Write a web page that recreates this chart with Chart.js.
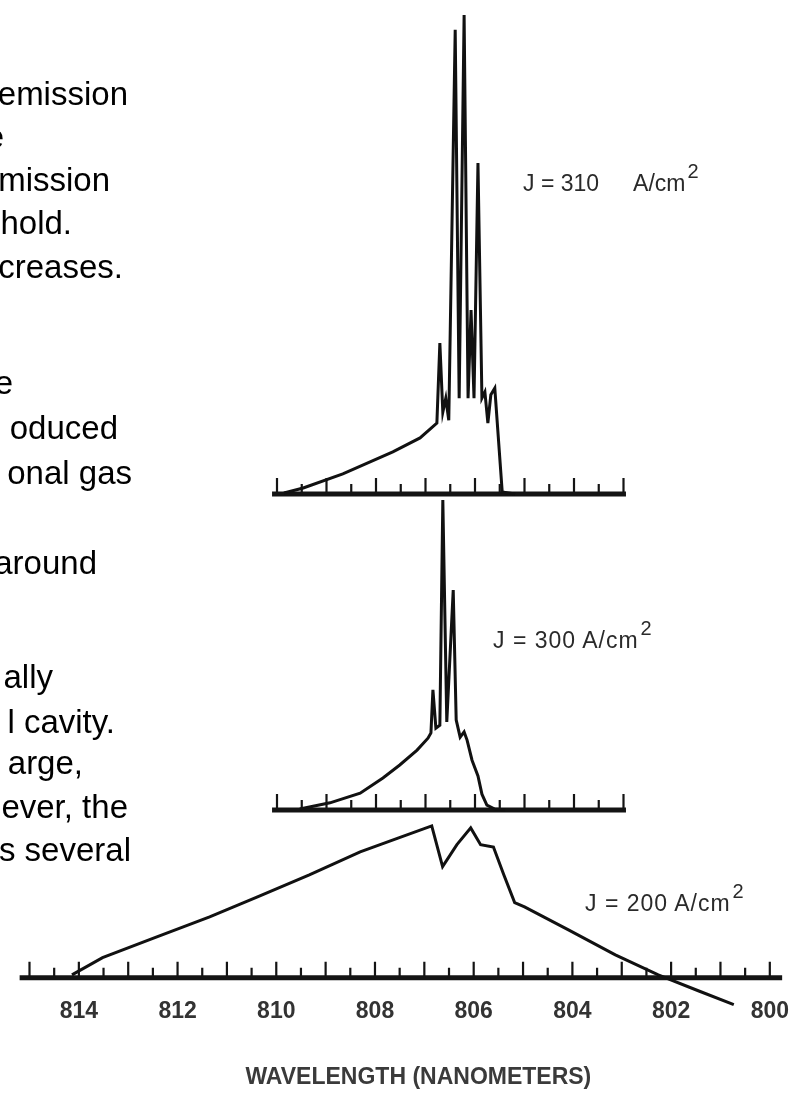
<!DOCTYPE html>
<html>
<head>
<meta charset="utf-8">
<script src="https://cdn.jsdelivr.net/npm/chart.js@4.4.0/dist/chart.umd.min.js"></script>
<style>
  html, body { margin: 0; padding: 0; background: #fff; }
  body { position: relative; width: 809px; height: 1095px; overflow: hidden; }
  canvas { position: absolute; left: 0; }
  .t { position: absolute; font: 33px/33px "Liberation Sans", Arial, sans-serif; color: #000; white-space: nowrap; text-align: right; z-index: 5; }
  .jl { position: absolute; font: 23px/23px "Liberation Sans", Arial, sans-serif; color: #2a2a2a; white-space: nowrap; z-index: 5; }
  .jl .sup { position: relative; top: -13px; font-size: 20px; margin-left: 2px; }
</style>
</head>
<body>
<canvas id="cTop" width="809" height="504" style="top:0px"></canvas>
<canvas id="cMid" width="809" height="340" style="top:480px"></canvas>
<canvas id="cBot" width="809" height="305" style="top:790px"></canvas>

<div class="t" style="right:681px;top:77px">emission</div>
<div class="t" style="right:805px;top:120px">e</div>
<div class="t" style="right:699px;top:163px">mission</div>
<div class="t" style="right:737px;top:206px">hold.</div>
<div class="t" style="right:686px;top:250px">creases.</div>
<div class="t" style="right:796px;top:366px">e</div>
<div class="t" style="right:691px;top:411px">oduced</div>
<div class="t" style="right:677px;top:456px">onal gas</div>
<div class="t" style="right:712px;top:546px">around</div>
<div class="t" style="right:756px;top:660px">ally</div>
<div class="t" style="right:694px;top:705px">l cavity.</div>
<div class="t" style="right:726px;top:746px">arge,</div>
<div class="t" style="right:681px;top:790px">ever, the</div>
<div class="t" style="right:678px;top:833px">s several</div>

<div class="jl" style="left:523px;top:172px">J = 310<span style="margin-left:34px">A/cm</span><span class="sup">2</span></div>
<div class="jl" style="left:493px;top:629px;letter-spacing:1px">J = 300 A/cm<span class="sup">2</span></div>
<div class="jl" style="left:585px;top:892px;letter-spacing:1px">J = 200 A/cm<span class="sup">2</span></div>

<script>
// ---- data (wavelength in nm, intensity in arbitrary units) ----
const topWavelength = [809.86, 809.47, 808.67, 807.66, 807.11, 806.77, 806.71, 806.65, 806.59, 806.53, 806.40, 806.32, 806.22, 806.14, 806.08, 806.02, 805.94, 805.86, 805.80, 805.74, 805.68, 805.60, 805.54, 805.45, 805.19];
const topIntensity  = [0.2, 1.25, 4.2, 8.8, 11.7, 14.8, 31.5, 17.1, 20.0, 15.4, 96.9, 20.0, 100, 20.0, 38.4, 20.0, 69.1, 20.0, 21.3, 14.8, 20.7, 22.1, 13.4, 0.4, 0];

const midWavelength = [809.54, 808.93, 808.32, 807.86, 807.52, 807.17, 806.95, 806.89, 806.85, 806.79, 806.71, 806.65, 806.57, 806.44, 806.38, 806.30, 806.22, 806.16, 806.06, 805.94, 805.86, 805.76, 805.60, 805.39];
const midIntensity  = [0.2, 1.5, 3.5, 6.7, 9.4, 12.5, 15.0, 16.1, 25.1, 17.1, 17.7, 64.7, 18.4, 45.9, 18.8, 15.2, 16.3, 14.6, 10.4, 7.1, 3.3, 1.0, 0.2, 0];

const botWavelength = [814.14, 813.52, 812.46, 811.35, 810.38, 809.33, 808.30, 807.52, 806.85, 806.63, 806.34, 806.06, 805.86, 805.60, 805.39, 805.17, 804.97, 804.08, 803.13, 802.26, 801.45, 800.73];
const botIntensity  = [0.6, 4.2, 8.4, 12.7, 16.9, 21.5, 26.3, 29.2, 31.7, 23.2, 27.8, 31.3, 27.8, 27.3, 21.5, 15.7, 14.8, 10.0, 4.8, 0.6, -2.7, -5.6];

const tickLabelStep = 2;          // nm between numbered ticks
const minorTickStep = 0.5;        // nm between tick marks
const shortAxisRange = [810.1, 802.95];   // extent of the upper two axes (nm)
const longAxisRange  = [815.2, 799.75];   // extent of the bottom axis (nm)
const xTitle = 'WAVELENGTH (NANOMETERS)';

// ---- layout constants ----
const PX_REF = 277, NM_REF = 810, PX_PER_NM = 49.5, CANVAS_W = 809;
const PX_PER_UNIT = 4.79;
const nmAtPx = px => NM_REF - (px - PX_REF) / PX_PER_NM;

const handAxis = {
  id: 'handAxis',
  beforeDatasetsDraw(chart, args, o) {
    const {ctx, scales: {x, y}} = chart;
    const y0 = y.getPixelForValue(0);
    ctx.save();
    ctx.strokeStyle = '#141414';
    ctx.lineCap = 'butt';
    ctx.lineWidth = 5;
    ctx.beginPath();
    ctx.moveTo(x.getPixelForValue(o.range[0]), y0);
    ctx.lineTo(x.getPixelForValue(o.range[1]), y0);
    ctx.stroke();
    ctx.lineWidth = 2.2;
    ctx.beginPath();
    const start = Math.floor(o.range[0] / minorTickStep) * minorTickStep;
    for (let w = start; w >= o.range[1] - 1e-9; w -= minorTickStep) {
      const px = x.getPixelForValue(w);
      const len = Math.abs(w - Math.round(w)) < 1e-6 ? 16 : 10;
      ctx.moveTo(px, y0);
      ctx.lineTo(px, y0 - len);
    }
    ctx.stroke();
    ctx.restore();
  }
};

function spectrum(wl, inten) {
  return {
    data: wl.map((w, i) => ({x: w, y: inten[i]})),
    borderColor: '#111',
    borderWidth: 3,
    pointRadius: 0,
    tension: 0,
    clip: false,
    borderJoinStyle: 'miter'
  };
}

function makeChart(id, wl, inten, opt) {
  const cv = document.getElementById(id);
  const h = cv.height;
  const padLeft = opt.padLeft || 0;
  const areaH = h - opt.axisHeight;
  const baseFromTop = opt.baseline;
  const yMax = baseFromTop / PX_PER_UNIT;
  const yMin = -(areaH - baseFromTop) / PX_PER_UNIT;
  return new Chart(cv, {
    type: 'line',
    data: { datasets: [spectrum(wl, inten)] },
    options: {
      responsive: false,
      animation: false,
      events: [],
      layout: { padding: { left: padLeft, right: 0, top: 0, bottom: 0 } },
      plugins: { legend: { display: false }, tooltip: { enabled: false }, handAxis: { range: opt.range } },
      scales: {
        x: Object.assign({
          type: 'linear',
          reverse: true,
          min: nmAtPx(CANVAS_W),
          max: nmAtPx(padLeft),
          display: false
        }, opt.xExtra || {}),
        y: { type: 'linear', display: false, min: yMin, max: yMax }
      }
    },
    plugins: [handAxis]
  });
}

makeChart('cTop', topWavelength, topIntensity, { baseline: 494, axisHeight: 0, range: shortAxisRange });
makeChart('cMid', midWavelength, midIntensity, { baseline: 330, axisHeight: 0, range: shortAxisRange });

const labelFont = { family: '"Liberation Sans", Arial, sans-serif', size: 23, weight: 'bold' };
makeChart('cBot', botWavelength, botIntensity, {
  baseline: 187.8, axisHeight: 117.2, range: longAxisRange, padLeft: 30,
  xExtra: {
    display: true,
    grid: { display: false, drawTicks: false },
    border: { display: false },
    ticks: {
      stepSize: tickLabelStep, includeBounds: false, autoSkip: false, maxRotation: 0,
      padding: 20, color: '#333', font: labelFont,
      callback: v => String(v)
    },
    title: {
      display: true, text: xTitle, color: '#3a3a3a',
      font: { family: '"Liberation Sans", Arial, sans-serif', size: 23, weight: 'bold' },
      padding: { top: 18, bottom: 4 }
    }
  }
});
</script>
</body>
</html>
